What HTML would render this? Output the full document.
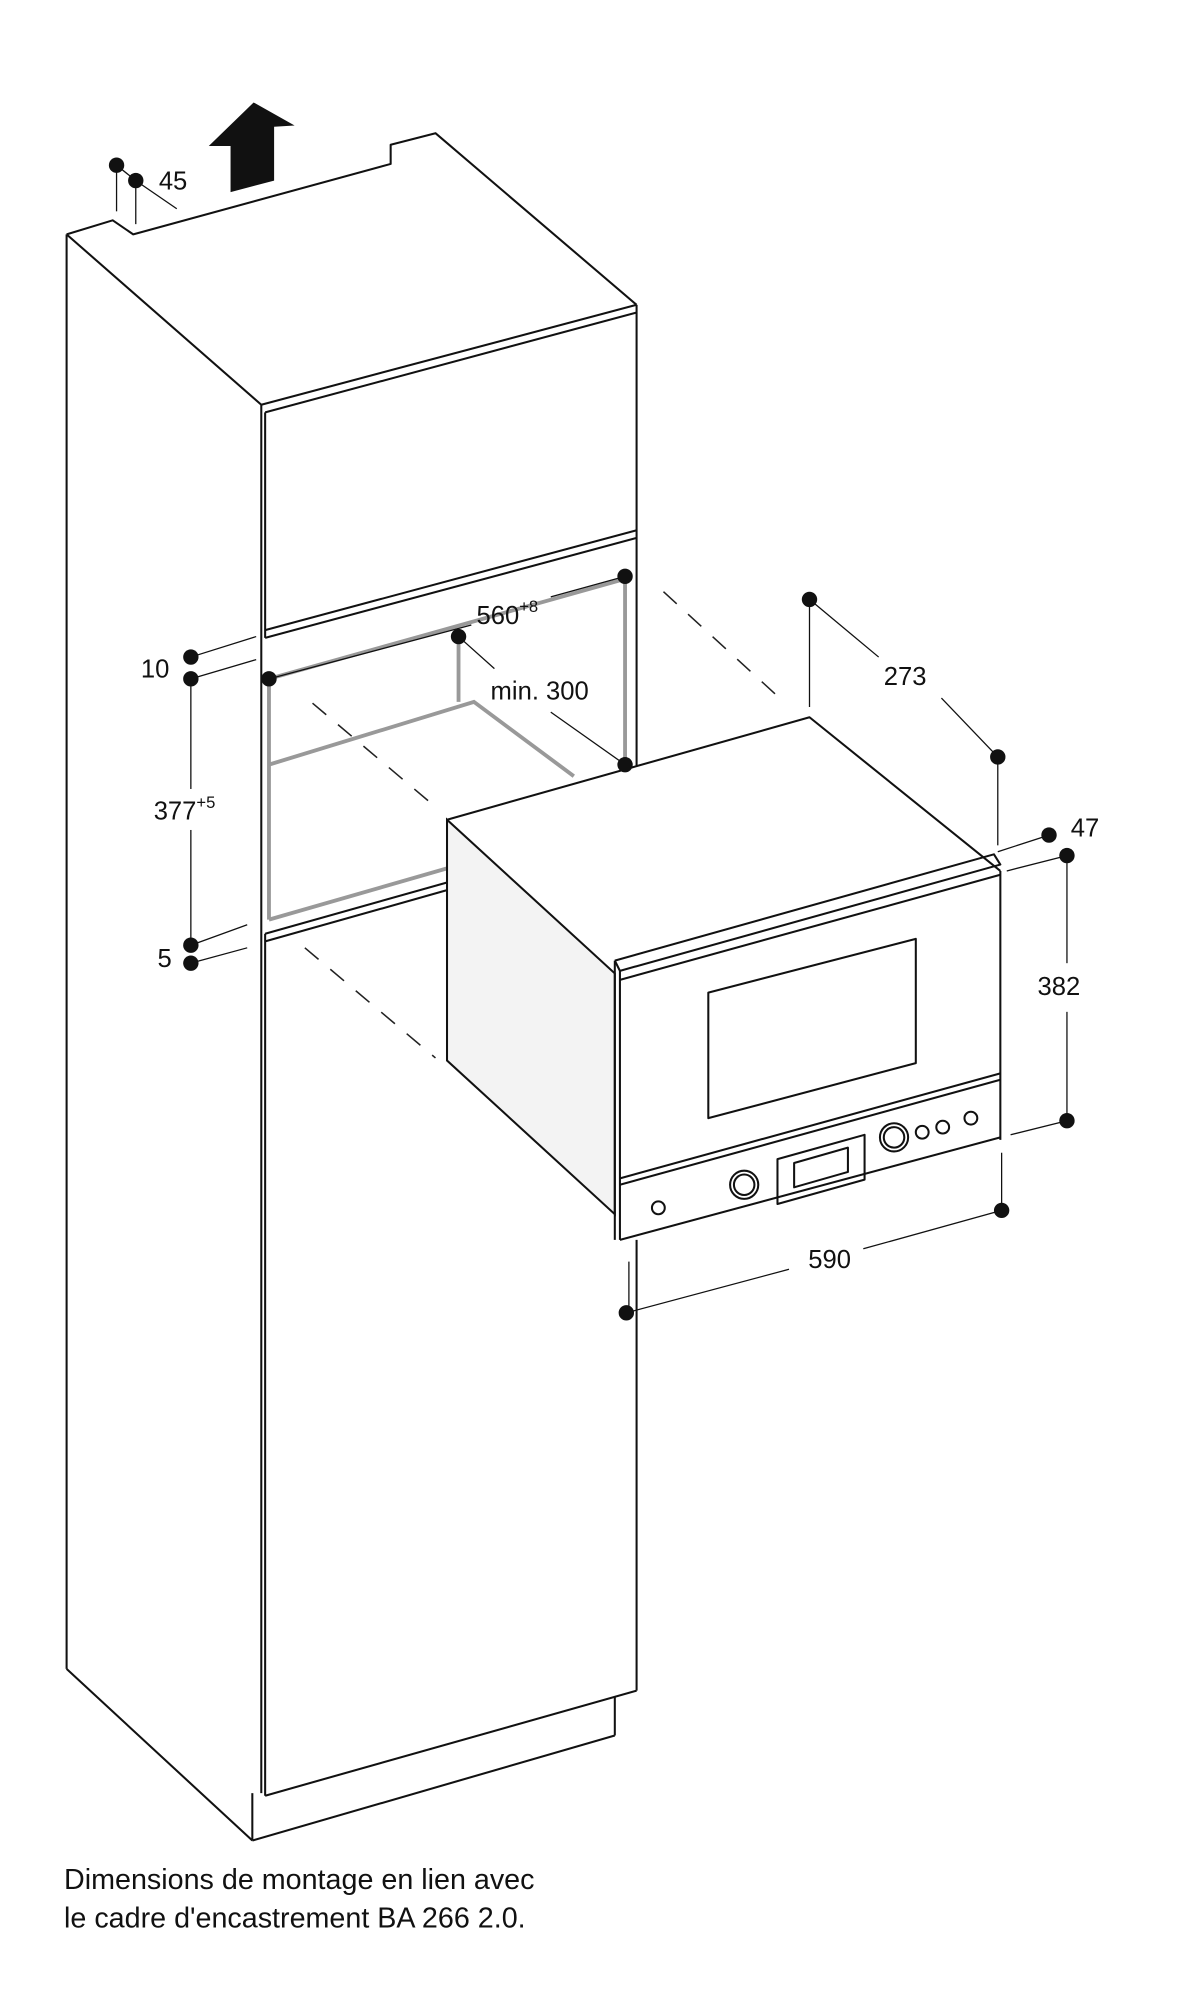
<!DOCTYPE html>
<html><head><meta charset="utf-8"><style>
html,body{margin:0;padding:0;background:#fff;width:1204px;height:2000px;overflow:hidden}
svg{display:block}
text{font-family:"Liberation Sans",sans-serif;fill:#111}
</style></head><body>
<svg width="1204" height="2000" viewBox="0 0 940 1561.5" preserveAspectRatio="none" xmlns="http://www.w3.org/2000/svg">
<g fill="none" stroke="#111" stroke-width="1.6" stroke-linejoin="round">
<polyline points="52,183 88,172 104,183 305,128 305,113 340,104 497,238"/>
<line x1="52" y1="183" x2="204" y2="316"/>
<line x1="204" y1="316" x2="497" y2="238"/>
<line x1="207" y1="322" x2="497" y2="244"/>
<line x1="497" y1="238" x2="497" y2="420"/>
<line x1="204" y1="316" x2="204" y2="1400"/>
<line x1="207" y1="322" x2="207" y2="498"/>
<line x1="207" y1="498" x2="497" y2="420"/>
<line x1="207" y1="492" x2="497" y2="414"/>
<line x1="52" y1="183" x2="52" y2="1303"/>
<line x1="52" y1="1303" x2="197" y2="1437"/>
<line x1="197" y1="1400" x2="197" y2="1437"/>
<line x1="197" y1="1437" x2="480" y2="1355"/>
<line x1="480" y1="1355" x2="480" y2="1325"/>
<line x1="207" y1="1402" x2="497" y2="1320"/>
<line x1="497" y1="968" x2="497" y2="1320"/>
<line x1="497" y1="420" x2="497" y2="598"/>
<line x1="207" y1="735" x2="349" y2="695"/>
<line x1="207" y1="729" x2="349" y2="689"/>
<line x1="207" y1="729" x2="207" y2="1402"/>
</g>
<g fill="none" stroke="#999" stroke-width="3">
<line x1="210" y1="530" x2="488" y2="452"/>
<line x1="210" y1="530" x2="210" y2="718"/>
<line x1="488" y1="452" x2="488" y2="597"/>
<line x1="358" y1="497" x2="358" y2="548"/>
<polyline points="210,597 370,548 448,606"/>
<line x1="210" y1="718" x2="349" y2="678"/>
</g>
<g stroke="#222" stroke-width="1.2" stroke-dasharray="14,12" fill="none">
<line x1="518" y1="462" x2="612" y2="548"/>
<line x1="244" y1="549" x2="340" y2="630"/>
<line x1="238" y1="740" x2="340" y2="826"/>
</g>
<polygon points="349,640 349,828 480,948 480,760" fill="#f3f3f3" stroke="#111" stroke-width="1.6"/>
<g fill="none" stroke="#111" stroke-width="1.6" stroke-linejoin="round">
<polyline points="349,640 632,560 781,680"/>
<polyline points="480,750 776,667 781,675 484,758 480,750"/>
<line x1="480" y1="750" x2="480" y2="968"/>
<line x1="484" y1="758" x2="484" y2="968"/>
<line x1="484" y1="765" x2="781" y2="683"/>
<line x1="781" y1="680" x2="781" y2="890"/>
<polygon points="553,775 715,733 715,830 553,873"/>
<line x1="484" y1="925" x2="781" y2="843"/>
<line x1="484" y1="920" x2="781" y2="838"/>
<line x1="484" y1="968" x2="781" y2="888"/>
<circle cx="514" cy="943" r="5"/>
<circle cx="581" cy="925" r="11"/><circle cx="581" cy="925" r="8"/>
<polygon points="607,905 675,886 675,921 607,940"/>
<polygon points="620,908 662,896 662,915 620,927"/>
<circle cx="698" cy="888" r="11"/><circle cx="698" cy="888" r="8"/>
<circle cx="720" cy="884" r="5"/><circle cx="736" cy="880" r="5"/><circle cx="758" cy="873" r="5"/>
</g>
<polygon points="180,150 180,114 163,114 198,80 230,98 214,99 214,141" fill="#111"/>
<g stroke="#111" stroke-width="1" fill="none">
<line x1="91" y1="129" x2="91" y2="165"/><line x1="106" y1="141" x2="106" y2="175"/>
<line x1="106" y1="141" x2="138" y2="163"/><line x1="91" y1="129" x2="106" y2="141"/>
<line x1="149" y1="513" x2="200" y2="497"/><line x1="149" y1="530" x2="200" y2="515"/>
<line x1="149" y1="530" x2="149" y2="616"/><line x1="149" y1="648" x2="149" y2="738"/>
<line x1="149" y1="738" x2="193" y2="722"/><line x1="149" y1="752" x2="193" y2="740"/>
<line x1="210" y1="530" x2="368" y2="488"/><line x1="430" y1="466" x2="488" y2="450"/>
<line x1="358" y1="497" x2="386" y2="522"/><line x1="430" y1="556" x2="488" y2="597"/>
<line x1="632" y1="468" x2="632" y2="552"/><line x1="632" y1="468" x2="686" y2="513"/>
<line x1="735" y1="545" x2="779" y2="591"/><line x1="779" y1="591" x2="779" y2="660"/>
<line x1="779" y1="665" x2="819" y2="652"/><line x1="786" y1="680" x2="833" y2="668"/>
<line x1="833" y1="668" x2="833" y2="752"/><line x1="833" y1="790" x2="833" y2="875"/>
<line x1="789" y1="886" x2="833" y2="875"/>
<line x1="782" y1="900" x2="782" y2="945"/><line x1="782" y1="945" x2="674" y2="975"/>
<line x1="616" y1="991" x2="489" y2="1025"/><line x1="491" y1="985" x2="491" y2="1025"/>
</g>
<g fill="#111">
<circle cx="91" cy="129" r="6"/><circle cx="106" cy="141" r="6"/>
<circle cx="149" cy="513" r="6"/><circle cx="149" cy="530" r="6"/>
<circle cx="149" cy="738" r="6"/><circle cx="149" cy="752" r="6"/>
<circle cx="210" cy="530" r="6"/><circle cx="358" cy="497" r="6"/>
<circle cx="488" cy="450" r="6"/><circle cx="488" cy="597" r="6"/>
<circle cx="632" cy="468" r="6"/><circle cx="779" cy="591" r="6"/>
<circle cx="819" cy="652" r="6"/><circle cx="833" cy="668" r="6"/>
<circle cx="833" cy="875" r="6"/><circle cx="782" cy="945" r="6"/>
<circle cx="489" cy="1025" r="6"/>
</g>
<g font-size="20">
<text x="124" y="148">45</text>
<text x="110" y="529">10</text>
<text x="120" y="640">377<tspan font-size="13" dy="-9">+5</tspan></text>
<text x="123" y="755">5</text>
<text x="372" y="487">560<tspan font-size="13" dy="-9">+8</tspan></text>
<text x="383" y="546">min. 300</text>
<text x="690" y="535">273</text>
<text x="836" y="653">47</text>
<text x="810" y="777">382</text>
<text x="631" y="990">590</text>
</g>
<g font-size="22.4">
<text x="50" y="1475">Dimensions de montage en lien avec</text>
<text x="50" y="1505">le cadre d'encastrement BA 266 2.0.</text>
</g>
</svg>
</body></html>
